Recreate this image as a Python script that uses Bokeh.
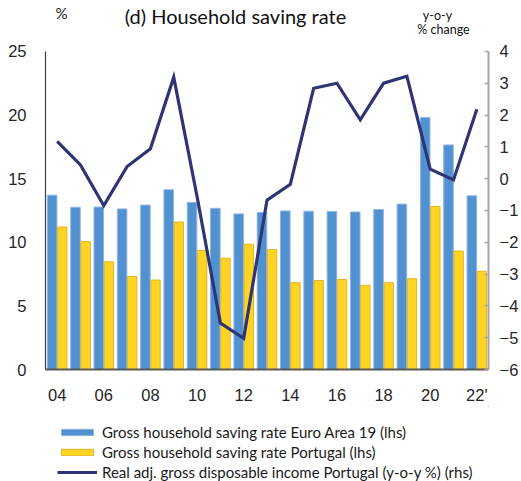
from bokeh.plotting import figure
from bokeh.layouts import column
from bokeh.models import (ColumnDataSource, Range1d, LinearAxis, FixedTicker,
                          Legend, LegendItem, Label)
from bokeh.transform import dodge
from bokeh.embed import file_html
from bokeh.resources import INLINE

# ---- data ----
years = list(range(2004, 2023))
ea19_saving = [13.7, 12.75, 12.77, 12.62, 12.92, 14.13, 13.13, 12.67, 12.23, 12.34,
               12.46, 12.44, 12.42, 12.38, 12.57, 13.0, 19.8, 17.65, 13.65]
pt_saving = [11.2, 10.05, 8.46, 7.31, 7.03, 11.59, 9.36, 8.75, 9.85, 9.42,
             6.82, 7.0, 7.08, 6.62, 6.82, 7.13, 12.82, 9.31, 7.72]
pt_income_yoy = [1.17, 0.43, -0.85, 0.38, 0.94, 3.19, -0.56, -4.54, -5.02, -0.68,
                 -0.18, 2.84, 3.0, 1.85, 3.0, 3.22, 0.3, -0.04, 2.18]
tick_years = [2004, 2006, 2008, 2010, 2012, 2014, 2016, 2018, 2020, 2022]
tick_labels = ["04", "06", "08", "10", "12", "14", "16", "18", "20", "22'"]
left_ticks = [0, 5, 10, 15, 20, 25]
right_ticks = [-6, -5, -4, -3, -2, -1, 0, 1, 2, 3, 4]

title_text = "(d) Household saving rate"
left_unit = "%"
right_unit = ["y-o-y", "% change"]
legend_labels = ["Gross household saving rate Euro Area 19 (lhs)",
                 "Gross household saving rate Portugal (lhs)",
                 "Real adj. gross disposable income Portugal (y-o-y %) (rhs)"]

src = ColumnDataSource(dict(year=years, ea=ea19_saving, pt=pt_saving, inc=pt_income_yoy))

BLUE = "#5291CF"
BLUE_EDGE = "#8CB7E3"
YELLOW = "#FFD424"
YELLOW_EDGE = "#E2B521"
NAVY = "#2E3474"
TICK_FONT = "Liberation Sans"
TXT_FONT = "Lato"

# main chart: the frame spans from the top of the figure down to the x axis;
# the value axes are bounded so that the space above 25 / 4 holds the headings
p = figure(width=521, height=406, output_backend="svg", toolbar_location=None,
           x_range=Range1d(2003.5, 2022.5), y_range=Range1d(0, 29.0),
           min_border_left=45, min_border_right=31, min_border_top=0,
           min_border_bottom=29)
p.title.visible = False
p.extra_y_ranges = {"rhs": Range1d(-6, 5.6)}
p.outline_line_color = None
p.xgrid.visible = False
p.ygrid.visible = False
p.background_fill_color = "white"
p.border_fill_color = "white"

r_ea = p.vbar(x=dodge("year", -0.215), top="ea", width=0.41, bottom=0, source=src,
              fill_color=BLUE, line_color=BLUE_EDGE, line_width=1)
r_pt = p.vbar(x=dodge("year", 0.22), top="pt", width=0.40, bottom=0, source=src,
              fill_color=YELLOW, line_color=YELLOW_EDGE, line_width=1)
r_inc = p.line(x="year", y="inc", source=src, y_range_name="rhs",
               line_color=NAVY, line_width=3.2, line_join="miter")

# left axis
ax_l = p.yaxis[0]
ax_l.ticker = FixedTicker(ticks=left_ticks)
ax_l.bounds = (0, 25)
ax_l.axis_line_color = "#404040"
ax_l.axis_line_width = 1.2
ax_l.major_tick_line_color = None
ax_l.minor_tick_line_color = None
ax_l.major_label_standoff = 13
ax_l.major_label_text_font = TICK_FONT
ax_l.major_label_text_font_size = "16.5px"
ax_l.major_label_text_color = "#262626"

# bottom axis
ax_b = p.xaxis[0]
ax_b.ticker = FixedTicker(ticks=tick_years)
ax_b.major_label_overrides = {y: l for y, l in zip(tick_years, tick_labels)}
ax_b.axis_line_color = "#595959"
ax_b.axis_line_width = 2
ax_b.major_tick_line_color = None
ax_b.minor_tick_line_color = None
ax_b.major_label_standoff = 10
ax_b.major_label_text_font = TICK_FONT
ax_b.major_label_text_font_size = "16.5px"
ax_b.major_label_text_color = "#262626"

# right axis
ax_r = LinearAxis(y_range_name="rhs", ticker=FixedTicker(ticks=right_ticks))
ax_r.bounds = (-6, 4)
ax_r.axis_line_color = "#A6A6A6"
ax_r.axis_line_width = 2
ax_r.major_tick_line_color = "#A6A6A6"
ax_r.major_tick_line_width = 1.5
ax_r.major_tick_in = 4
ax_r.major_tick_out = 0
ax_r.minor_tick_line_color = None
ax_r.major_label_standoff = 11
ax_r.major_label_text_font = TICK_FONT
ax_r.major_label_text_font_size = "16.5px"
ax_r.major_label_text_color = "#262626"
p.add_layout(ax_r, "right")

# headings (screen units, measured from the frame's bottom-left corner)
p.add_layout(Label(x=190, y=354, x_units="screen", y_units="screen", text=title_text,
                   text_font=TXT_FONT, text_font_size="20px", text_color="#111111",
                   text_align="center", text_baseline="middle"))
p.add_layout(Label(x=16, y=357, x_units="screen", y_units="screen", text=left_unit,
                   text_font=TXT_FONT, text_font_size="15px", text_color="#111111",
                   text_align="center", text_baseline="middle"))
p.add_layout(Label(x=392, y=354, x_units="screen", y_units="screen", text=right_unit[0],
                   text_font=TXT_FONT, text_font_size="12.5px", text_color="#111111",
                   text_align="center", text_baseline="middle"))
p.add_layout(Label(x=398, y=340, x_units="screen", y_units="screen", text=right_unit[1],
                   text_font=TXT_FONT, text_font_size="12.5px", text_color="#111111",
                   text_align="center", text_baseline="middle"))

# legend strip below the chart; its key renderers hold the same series but lie
# outside the strip's visible range, so only the legend shows
lg = figure(width=521, height=75, output_backend="svg", toolbar_location=None,
            x_range=Range1d(-10, -9), y_range=Range1d(-10, -9),
            x_axis_type=None, y_axis_type=None,
            min_border_left=45, min_border_right=31, min_border_top=0,
            min_border_bottom=0)
lg.title.visible = False
lg.outline_line_color = None
lg.xgrid.visible = False
lg.ygrid.visible = False
k_ea = lg.vbar(x="year", top="ea", width=0.41, source=src,
               fill_color=BLUE, line_color=BLUE_EDGE, line_width=1)
k_pt = lg.vbar(x="year", top="pt", width=0.40, source=src,
               fill_color=YELLOW, line_color=YELLOW_EDGE, line_width=1)
k_inc = lg.line(x="year", y="inc", source=src, line_color=NAVY, line_width=3.2)

legend = Legend(items=[LegendItem(label=legend_labels[0], renderers=[k_ea]),
                       LegendItem(label=legend_labels[1], renderers=[k_pt]),
                       LegendItem(label=legend_labels[2], renderers=[k_inc])],
                location=(12, 0), orientation="vertical",
                glyph_width=40, glyph_height=8, label_height=19, spacing=1,
                label_standoff=5, padding=0, margin=0,
                label_text_font=TXT_FONT, label_text_font_size="15px",
                label_text_color="#1a1a1a", border_line_color=None,
                background_fill_alpha=0)
lg.add_layout(legend, "center")

page = column(p, lg, spacing=0)
open("out.html", "w").write(file_html(page, INLINE))
